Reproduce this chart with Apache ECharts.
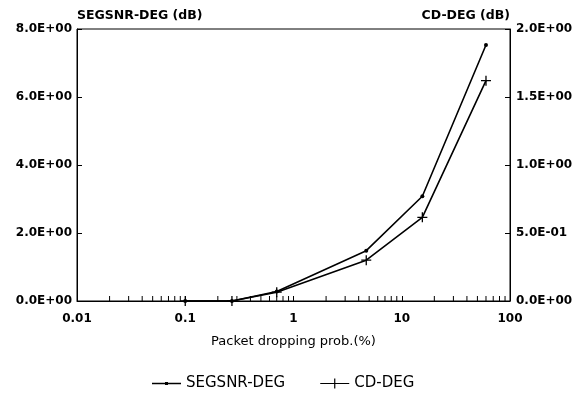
<!DOCTYPE html>
<html>
<head>
<meta charset="utf-8">
<script src="https://cdn.jsdelivr.net/npm/echarts@6/dist/echarts.min.js"></script>
<style>
  html, body { margin: 0; padding: 0; background: #fff; }
  #chart { width: 576px; height: 394px; }
</style>
</head>
<body>
<div id="chart"></div>
<script>
// packet dropping probability (%)
const dropProb = [0.1, 0.27, 0.7, 4.7, 15.5, 60];
// left axis, dB
const segsnrDeg = [0, 0, 0.28, 1.48, 3.08, 7.53];
// right axis, dB
const cdDeg = [0, 0, 0.065, 0.30, 0.615, 1.62];
// minor log ticks drawn along the bottom axis
const minorTicks = [
  0.02, 0.03, 0.04, 0.05, 0.06, 0.07, 0.08, 0.09,
  0.2, 0.3, 0.4, 0.5, 0.6, 0.7, 0.8, 0.9,
  2, 3, 4, 5, 6, 7, 8, 9,
  20, 30, 40, 50, 60, 70, 80, 90
];

const FONT = 'DejaVu Sans';

function sci(v) {
  // 0.5 -> "5.0E-01"
  const s = v.toExponential(1).toUpperCase();
  const m = s.match(/^(.*)E([+-])(\d+)$/);
  return m[1] + 'E' + m[2] + m[3].padStart(2, '0');
}

const chart = echarts.init(document.getElementById('chart'));

const plusSymbol = 'path://M0,5L10,5M5,0L5,10';
// legend icons: line with a small dot / line with a cross
const dotIcon = 'path://M0,0.8H29V2.2H0Z M13,0H16V3H13Z';
const plusIcon = 'path://M0,4.4H29V5.6H0Z M13.9,0H15.1V10H13.9Z';

chart.setOption({
  animation: false,
  backgroundColor: '#fff',
  grid: {
    left: 77,
    right: 66,
    top: 29,
    bottom: 93,
    show: true,
    borderColor: '#000',
    borderWidth: 1
  },
  legend: {
    data: [
      { name: 'SEGSNR-DEG', icon: dotIcon },
      { name: 'CD-DEG', icon: plusIcon }
    ],
    left: 152,
    top: 376,
    padding: 0,
    itemWidth: 29,
    itemHeight: 10,
    itemGap: 35,
    itemStyle: { borderWidth: 0 },
    textStyle: { fontFamily: FONT, fontSize: 15, color: '#000' }
  },
  xAxis: {
    type: 'log',
    logBase: 10,
    min: 0.01,
    max: 100,
    name: 'Packet dropping prob.(%)',
    nameLocation: 'middle',
    nameGap: 34,
    nameTextStyle: { fontFamily: FONT, fontSize: 13, color: '#000' },
    axisLine: { lineStyle: { color: '#000', width: 1 } },
    axisTick: { inside: true, length: 5, lineStyle: { color: '#000' } },
    axisLabel: {
      fontFamily: FONT,
      fontSize: 12,
      fontWeight: 'bold',
      color: '#000',
      margin: 12,
      formatter: v => String(+Number(v).toPrecision(2))
    },
    splitLine: { show: false },
    minorTick: { show: false }
  },
  yAxis: [
    {
      type: 'value',
      min: 0,
      max: 8,
      interval: 2,
      name: 'SEGSNR-DEG (dB)',
      nameLocation: 'end',
      nameGap: 7,
      nameTextStyle: {
        fontFamily: FONT, fontSize: 12.5, fontWeight: 'bold', color: '#000',
        align: 'left'
      },
      axisLine: { show: true, lineStyle: { color: '#000' } },
      axisTick: { show: true, inside: true, length: 5, lineStyle: { color: '#000' } },
      axisLabel: {
        fontFamily: FONT, fontSize: 12, fontWeight: 'bold', color: '#000',
        margin: 5,
        formatter: v => sci(v)
      },
      splitLine: { show: false }
    },
    {
      type: 'value',
      min: 0,
      max: 2,
      interval: 0.5,
      name: 'CD-DEG (dB)',
      nameLocation: 'end',
      nameGap: 7,
      nameTextStyle: {
        fontFamily: FONT, fontSize: 12.5, fontWeight: 'bold', color: '#000',
        align: 'right'
      },
      axisLine: { show: true, lineStyle: { color: '#000' } },
      axisTick: { show: true, inside: true, length: 5, lineStyle: { color: '#000' } },
      axisLabel: {
        fontFamily: FONT, fontSize: 12, fontWeight: 'bold', color: '#000',
        margin: 6,
        formatter: v => sci(v)
      },
      splitLine: { show: false }
    }
  ],
  series: [
    {
      name: 'SEGSNR-DEG',
      type: 'line',
      yAxisIndex: 0,
      data: dropProb.map((x, i) => [x, segsnrDeg[i]]),
      symbol: 'circle',
      symbolSize: 4,
      showSymbol: true,
      lineStyle: { color: '#000', width: 1.6 },
      itemStyle: { color: '#000' },
      z: 3
    },
    {
      name: 'CD-DEG',
      type: 'line',
      yAxisIndex: 1,
      data: dropProb.map((x, i) => [x, cdDeg[i]]),
      symbol: plusSymbol,
      symbolSize: 10,
      showSymbol: true,
      lineStyle: { color: '#000', width: 1.6 },
      itemStyle: { color: '#000', borderColor: '#000', borderWidth: 1.3 },
      z: 3
    },
    {
      name: 'minorTicks',
      type: 'custom',
      silent: true,
      clip: false,
      data: minorTicks.map(v => [v, 0]),
      renderItem: (params, api) => {
        const p = api.coord([api.value(0), 0]);
        return {
          type: 'line',
          shape: { x1: p[0], y1: p[1], x2: p[0], y2: p[1] - 5 },
          style: { stroke: '#000', lineWidth: 1 }
        };
      },
      z: 2
    }
  ]
});
</script>
</body>
</html>
